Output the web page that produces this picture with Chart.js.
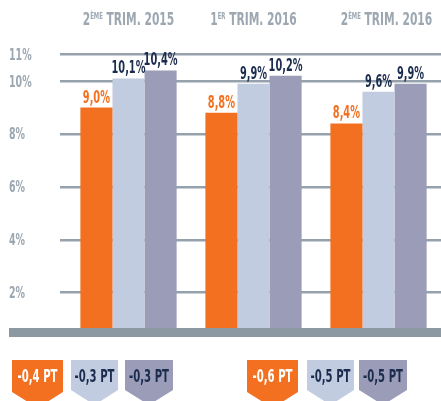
<!DOCTYPE html>
<html>
<head>
<meta charset="utf-8">
<script src="https://cdn.jsdelivr.net/npm/chart.js@4"></script>
<style>
  html, body { margin: 0; padding: 0; background: #fff; }
  #wrap { width: 441px; height: 401px; }
</style>
</head>
<body>
<div id="wrap"><canvas id="chart" width="441" height="401"></canvas></div>
<script>
// Quarters shown on top of each bar group
const quarters = ["2ÈME TRIM. 2015", "1ER TRIM. 2016", "2ÈME TRIM. 2016"];
// Rates per series (%)
const seriesOrange = [9.0, 8.8, 8.4];
const seriesLight = [10.1, 9.9, 9.6];
const seriesDark = [10.4, 10.2, 9.9];
// Changes in points shown in the badges under the chart
const changeLastQuarter = [-0.4, -0.3, -0.3];
const changeLastYear = [-0.6, -0.5, -0.5];
// Y axis ticks
const yTicks = [2, 4, 6, 8, 10, 11];

const ORANGE = '#f37021';
const LIGHT = '#c2cce0';
const DARK = '#9a9cb8';
const NAVY = '#1b2c4e';
const GREY_TXT = '#9ca7b1';
const GRID = '#95a1ab';
const BASE = '#8c99a3';
const FONT = '"DejaVu Sans Condensed", "DejaVu Sans", sans-serif';

const fmt = v => v.toFixed(1).replace('.', ',');

// draws squeezed text (the original uses a very condensed face)
function condText(ctx, text, x, y, size, weight, color, align, sx) {
    ctx.save();
    ctx.font = weight + ' ' + size + 'px ' + FONT;
    ctx.fillStyle = color;
    ctx.textBaseline = 'alphabetic';
    const w = ctx.measureText(text).width * sx;
    let left = x;
    if (align === 'center') left = x - w / 2;
    if (align === 'right') left = x - w;
    ctx.translate(left, y);
    ctx.scale(sx, 1);
    ctx.textAlign = 'left';
    ctx.fillText(text, 0, 0);
    ctx.restore();
    return w;
}

const decorPlugin = {
    id: 'decor',
    afterDatasetsDraw(chart) {
        const ctx = chart.ctx;
        const area = chart.chartArea;
        const yScale = chart.scales.y;
        const xScale = chart.scales.x;

        // thick base bar
        ctx.save();
        ctx.fillStyle = BASE;
        ctx.fillRect(9, area.bottom, chart.width - 9, 9);
        ctx.restore();

        // y tick labels
        yScale.ticks.forEach(t => {
            const y = yScale.getPixelForValue(t.value);
            condText(ctx, t.value + '%', 9, y + 5.5, 15, 'bold', GREY_TXT, 'left', 0.7);
        });

        // quarter titles with superscript
        quarters.forEach((q, i) => {
            const m = q.match(/^(\d)(\S+) (.*)$/);
            const cx = xScale.getPixelForValue(i) + (i === 2 ? 8 : 0);
            const sx = 0.66;
            ctx.save();
            ctx.font = 'bold 18px ' + FONT;
            const w1 = ctx.measureText(m[1]).width * sx;
            const w3 = ctx.measureText(' ' + m[3]).width * sx;
            ctx.font = 'bold 9px ' + FONT;
            const w2 = ctx.measureText(m[2]).width * sx;
            ctx.restore();
            let x = cx - (w1 + w2 + w3) / 2;
            condText(ctx, m[1], x, 25, 18, 'bold', GREY_TXT, 'left', sx);
            x += w1;
            condText(ctx, m[2], x, 19, 9, 'bold', GREY_TXT, 'left', sx);
            x += w2;
            condText(ctx, ' ' + m[3], x, 25, 18, 'bold', GREY_TXT, 'left', sx);
        });

        // value labels above bars
        chart.data.datasets.forEach((ds, di) => {
            const meta = chart.getDatasetMeta(di);
            meta.data.forEach((bar, i) => {
                const color = di === 0 ? ORANGE : NAVY;
                condText(ctx, fmt(ds.data[i]) + '%', bar.x, bar.y - 5, 17, 'bold', color, 'center', 0.64);
            });
        });

        // badges
        const colors = [ORANGE, LIGHT, DARK];
        const widths = [51, 47, 48];
        const starts = [[12, 71, 125], [247, 307, 359]];
        [changeLastQuarter, changeLastYear].forEach((vals, g) => {
            vals.forEach((v, k) => {
                const x0 = starts[g][k];
                const w = widths[k];
                const top = 360;
                const side = k === 0 ? 392 : 390;
                const tip = k === 0 ? 408 : 405;
                ctx.save();
                ctx.fillStyle = colors[k];
                ctx.beginPath();
                ctx.moveTo(x0, top);
                ctx.lineTo(x0 + w, top);
                ctx.lineTo(x0 + w, side);
                ctx.lineTo(x0 + w / 2, tip);
                ctx.lineTo(x0, side);
                ctx.closePath();
                ctx.fill();
                ctx.restore();
                condText(ctx, fmt(v) + ' PT', x0 + w / 2, 382, 17, 'bold', k === 0 ? '#ffffff' : NAVY, 'center', 0.66);
            });
        });
    }
};

new Chart(document.getElementById('chart'), {
    type: 'bar',
    data: {
        labels: quarters,
        datasets: [
            { label: 'A', data: seriesOrange, backgroundColor: ORANGE },
            { label: 'B', data: seriesLight, backgroundColor: LIGHT },
            { label: 'C', data: seriesDark, backgroundColor: DARK }
        ]
    },
    options: {
        responsive: false,
        animation: false,
        events: [],
        layout: { padding: { left: 9, right: -3, top: 41.4, bottom: 73 } },
        datasets: { bar: { categoryPercentage: 0.77, barPercentage: 1, borderWidth: 0 } },
        plugins: { legend: { display: false }, tooltip: { enabled: false } },
        scales: {
            x: { display: false },
            y: {
                min: 0.665,
                max: 11.5,
                afterBuildTicks: axis => { axis.ticks = yTicks.map(v => ({ value: v })); },
                afterFit: axis => { axis.width = 57; },
                ticks: { display: false },
                border: { display: false },
                grid: { color: GRID, lineWidth: 2.5, tickLength: 6, drawTicks: true }
            }
        }
    },
    plugins: [decorPlugin]
});
</script>
</body>
</html>
